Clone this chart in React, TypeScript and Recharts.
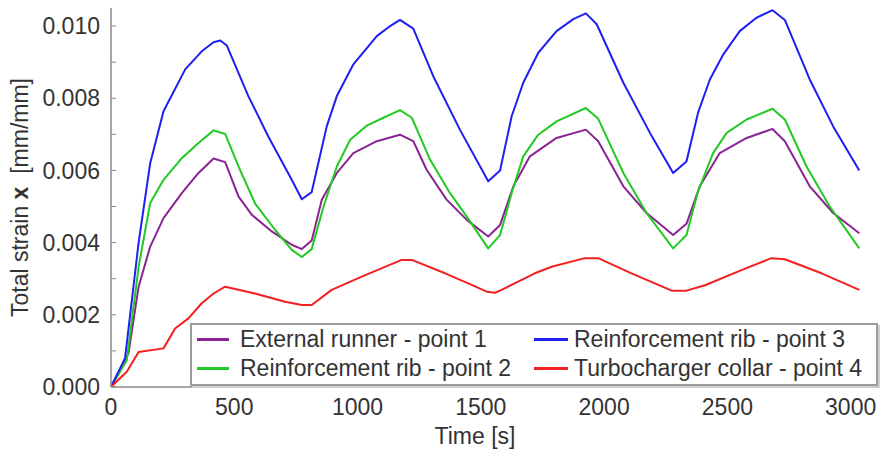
import { LineChart, Line, XAxis, YAxis, Legend, Label } from 'recharts'

// time [s] / total strain [mm/mm]
const runnerTime = [0, 71, 112, 159, 213, 287, 355, 416, 463, 517, 571, 652, 733, 774, 814, 855, 916, 983, 1078, 1172, 1226, 1280, 1361, 1443, 1530, 1578, 1632, 1699, 1807, 1926, 1976, 2078, 2172, 2280, 2334, 2388, 2469, 2578, 2683, 2733, 2834, 2929, 3035]
const runnerStrain = [0, 0.00094, 0.00278, 0.00389, 0.00468, 0.00537, 0.00593, 0.00633, 0.00623, 0.00528, 0.00477, 0.00431, 0.00394, 0.00382, 0.00406, 0.00519, 0.00593, 0.00648, 0.00681, 0.00699, 0.00681, 0.00602, 0.00519, 0.00463, 0.00417, 0.00449, 0.00556, 0.00639, 0.0069, 0.00713, 0.00681, 0.00556, 0.00482, 0.00421, 0.00452, 0.00556, 0.00648, 0.0069, 0.00715, 0.00681, 0.00556, 0.00482, 0.00426]

const rib2Time = [0, 64, 112, 159, 213, 287, 355, 416, 463, 517, 584, 666, 733, 774, 814, 862, 916, 970, 1037, 1105, 1172, 1220, 1294, 1375, 1443, 1530, 1578, 1625, 1672, 1733, 1807, 1926, 1976, 2078, 2172, 2280, 2334, 2381, 2442, 2497, 2578, 2683, 2733, 2821, 2915, 3035]
const rib2Strain = [0, 0.00074, 0.00333, 0.0051, 0.00574, 0.00634, 0.00676, 0.00711, 0.00701, 0.00611, 0.00509, 0.00435, 0.0038, 0.0036, 0.00382, 0.005, 0.00611, 0.00685, 0.00724, 0.00746, 0.00767, 0.00746, 0.0063, 0.00537, 0.00472, 0.00384, 0.00421, 0.00537, 0.00639, 0.00699, 0.00736, 0.00773, 0.00743, 0.00593, 0.00482, 0.00384, 0.00421, 0.00542, 0.00648, 0.00704, 0.00741, 0.00771, 0.00741, 0.00611, 0.005, 0.00384]

const rib3Time = [0, 57, 112, 159, 213, 301, 368, 416, 443, 470, 557, 638, 733, 774, 814, 875, 916, 983, 1078, 1132, 1172, 1226, 1307, 1415, 1530, 1578, 1625, 1672, 1733, 1807, 1875, 1926, 1970, 2078, 2186, 2280, 2334, 2381, 2429, 2483, 2550, 2618, 2683, 2733, 2834, 2929, 3035]
const rib3Strain = [0, 0.0008, 0.004, 0.0062, 0.00764, 0.0088, 0.0093, 0.00955, 0.0096, 0.00946, 0.00806, 0.00694, 0.00574, 0.0052, 0.0054, 0.00722, 0.00806, 0.00894, 0.00972, 0.01, 0.01017, 0.00993, 0.00861, 0.00713, 0.0057, 0.006, 0.0075, 0.00843, 0.00926, 0.00986, 0.01019, 0.01035, 0.01005, 0.00843, 0.00704, 0.00593, 0.00625, 0.0076, 0.00852, 0.00921, 0.00986, 0.01023, 0.01044, 0.01017, 0.00852, 0.00722, 0.006]

const collarTime = [0, 64, 112, 213, 260, 314, 368, 416, 463, 584, 706, 774, 814, 895, 1017, 1111, 1179, 1220, 1355, 1449, 1524, 1557, 1584, 1719, 1787, 1922, 1976, 2111, 2274, 2314, 2334, 2409, 2557, 2679, 2733, 2882, 3035]
const collarStrain = [0, 0.00042, 0.00097, 0.00107, 0.00162, 0.0019, 0.00232, 0.00259, 0.00278, 0.00259, 0.00236, 0.00227, 0.00227, 0.00269, 0.00306, 0.00333, 0.00352, 0.00352, 0.00315, 0.00287, 0.00264, 0.00261, 0.00269, 0.00315, 0.00333, 0.00357, 0.00357, 0.00315, 0.00267, 0.00267, 0.00267, 0.00282, 0.00324, 0.00357, 0.00354, 0.00315, 0.00269]

const xTicks = [0, 500, 1000, 1500, 2000, 2500, 3000]
const xTopTicks = [0, 200, 400, 600, 800, 1000, 1200, 1400, 1600, 1800, 2000, 2200, 2400, 2600, 2800, 3000]
const yTicks = [0, 0.001, 0.002, 0.003, 0.004, 0.005, 0.006, 0.007, 0.008, 0.009, 0.01]

const toPoints = (time: number[], strain: number[]) =>
  time.map((t, i) => ({ time: t, strain: strain[i] }))

// legend order: column by column
const SERIES = [
  { name: 'External runner - point 1', color: '#8a2394', points: toPoints(runnerTime, runnerStrain) },
  { name: 'Reinforcement rib - point 2', color: '#22c922', points: toPoints(rib2Time, rib2Strain) },
  { name: 'Reinforcement rib - point 3', color: '#1f1ff2', points: toPoints(rib3Time, rib3Strain) },
  { name: 'Turbocharger collar - point 4', color: '#f41f1f', points: toPoints(collarTime, collarStrain) },
]

const FONT = '"Liberation Sans", Arial, sans-serif'
const TEXT = '#333'
const FRAME = '#8a8a8a'

function formatStrain(v: number) {
  const k = Math.round(v * 1000)
  return k % 2 === 0 ? v.toFixed(3) : ''
}

function YTitle({ viewBox }: any) {
  const cx = (viewBox?.x ?? 0) + 28
  const cy = (viewBox?.y ?? 8) + (viewBox?.height ?? 379) / 2
  return (
    <text
      x={cx}
      y={cy}
      transform={`rotate(-90 ${cx} ${cy})`}
      textAnchor="middle"
      fontSize={23}
      fill={TEXT}
      style={{ whiteSpace: 'pre' }}
    >
      {'Total strain '}
      <tspan fontWeight="bold">x</tspan>
      {'  [mm/mm]'}
    </text>
  )
}

function LegendBox() {
  return (
    <div
      style={{
        background: '#fff',
        border: '2px solid #9c9c9c',
        boxShadow: '2px 2px 0 #cfcfcf',
        boxSizing: 'border-box',
        height: 63,
        padding: '0 0 0 5px',
        display: 'grid',
        gridTemplateRows: '29px 29px',
        gridTemplateColumns: '337px 1fr',
        gridAutoFlow: 'column',
        fontFamily: FONT,
        fontSize: 23,
        color: TEXT,
      }}
    >
      {SERIES.map((s, i) => (
        <div key={s.name} style={{ display: 'flex', alignItems: 'center', whiteSpace: 'nowrap' }}>
          <span
            style={{
              display: 'inline-block',
              width: i < 2 ? 32 : 34,
              borderTop: `3px solid ${s.color}`,
              marginRight: i < 2 ? 11 : 6,
            }}
          />
          {s.name}
        </div>
      ))}
    </div>
  )
}

export default function App() {
  return (
    <div style={{ position: 'absolute', left: 0, top: 0, width: 880, height: 450, background: '#fff' }}>
      <LineChart
        width={880}
        height={450}
        margin={{ top: 8, right: 17, bottom: 0, left: 0 }}
        style={{ fontFamily: FONT }}
      >
        <XAxis
          dataKey="time"
          type="number"
          domain={[0, 3050]}
          ticks={xTicks}
          interval={0}
          allowDataOverflow
          height={63}
          tickSize={-5}
          tickMargin={17}
          tick={{ fill: TEXT, fontSize: 23 }}
          axisLine={{ stroke: FRAME, strokeWidth: 1.5 }}
          tickLine={{ stroke: FRAME }}
        >
          <Label value="Time [s]" position="insideBottom" offset={6} dx={-12} fill={TEXT} fontSize={23} />
        </XAxis>
        <XAxis
          xAxisId="top"
          orientation="top"
          type="number"
          domain={[0, 3050]}
          ticks={xTopTicks}
          interval={0}
          allowDataOverflow
          height={0}
          tickSize={-5}
          tickFormatter={() => ''}
          axisLine={{ stroke: FRAME, strokeWidth: 1.5 }}
          tickLine={{ stroke: FRAME }}
        />
        <YAxis
          type="number"
          domain={[0, 0.0105]}
          ticks={yTicks}
          interval={0}
          allowDataOverflow
          width={111}
          tickSize={-5}
          tickMargin={16}
          tickFormatter={formatStrain}
          tick={{ fill: TEXT, fontSize: 23 }}
          axisLine={{ stroke: FRAME, strokeWidth: 1.5 }}
          tickLine={{ stroke: FRAME }}
        >
          <Label content={YTitle} />
        </YAxis>
        <YAxis
          yAxisId="right"
          orientation="right"
          type="number"
          domain={[0, 0.0105]}
          ticks={yTicks}
          interval={0}
          allowDataOverflow
          width={0}
          tickSize={-5}
          tickFormatter={() => ''}
          axisLine={{ stroke: FRAME, strokeWidth: 1.5 }}
          tickLine={{ stroke: FRAME }}
        />
        {SERIES.map((s) => (
          <Line
            key={s.name}
            data={s.points}
            dataKey="strain"
            name={s.name}
            type="linear"
            stroke={s.color}
            strokeWidth={2}
            strokeLinejoin="round"
            dot={false}
            activeDot={false}
            isAnimationActive={false}
          />
        ))}
        <Legend
          layout="vertical"
          align="center"
          verticalAlign="middle"
          content={LegendBox}
          wrapperStyle={{ left: 190, top: 323, width: 688, height: 63 }}
        />
      </LineChart>
    </div>
  )
}
